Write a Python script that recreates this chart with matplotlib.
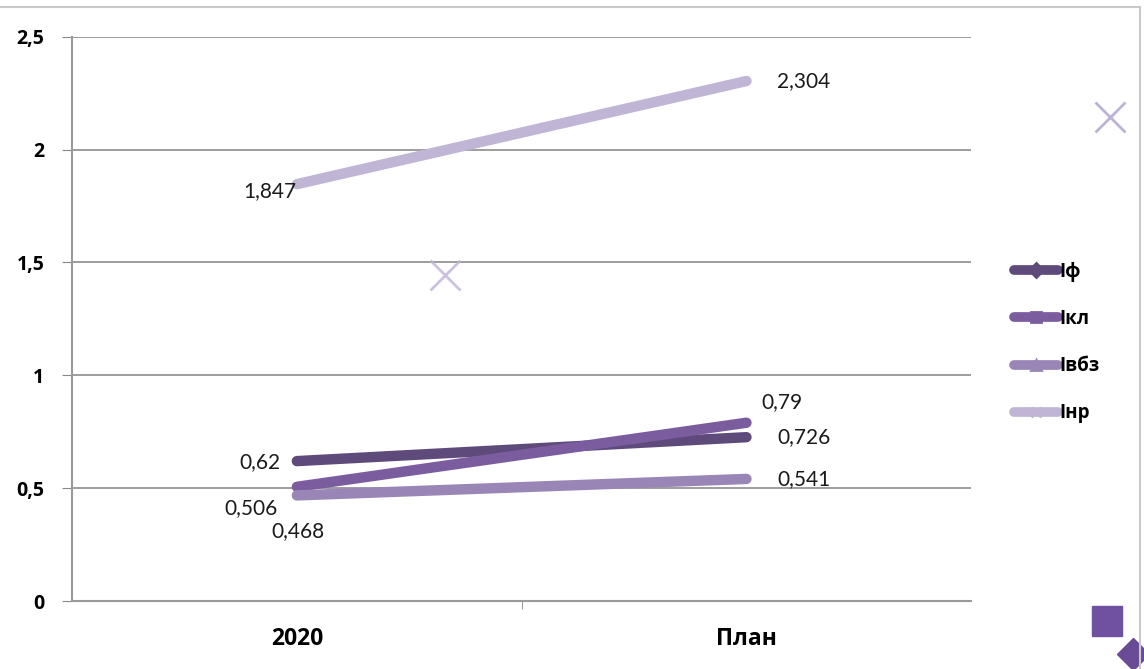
import matplotlib.pyplot as plt
from matplotlib.lines import Line2D

plt.rcParams['font.family'] = ['Lato', 'DejaVu Sans']

categories = ["2020", "План"]
series_names = ["Іф", "Ікл", "Івбз", "Інр"]
i_f = [0.62, 0.726]
i_kl = [0.506, 0.79]
i_vbz = [0.468, 0.541]
i_nr = [1.847, 2.304]
y_ticks = [0, 0.5, 1, 1.5, 2, 2.5]
y_tick_labels = ["0", "0,5", "1", "1,5", "2", "2,5"]

colors = ["#5f4a7c", "#7b5c9e", "#9a86b6", "#c0b5d4"]
markers = ["D", "s", "^", "x"]
# label offsets in points (dx, dy) and alignment for each point
label_pos = [
    [((-12, -1), "right"), ((22, 0), "left")],
    [((-14, -15), "right"), ((11, 15), "left")],
    [((20, -26), "right"), ((22, 0), "left")],
    [((0, -5), "right"), ((22, 0), "left")],
]

bold = {"family": ["Open Sans", "DejaVu Sans"], "weight": "bold"}

fig = plt.figure(figsize=(11.44, 6.69), dpi=100)
ax = fig.add_axes([0.063, 0.1016, 0.786, 0.8434])

x = range(len(categories))
data = [i_f, i_kl, i_vbz, i_nr]
for k, vals in enumerate(data):
    ax.plot(x, vals, color=colors[k], lw=7.5, solid_capstyle="round", zorder=3)
    for j, v in enumerate(vals):
        (dx, dy), ha = label_pos[k][j]
        ax.annotate(str(v).replace(".", ","), (j, v), xytext=(dx, dy),
                    textcoords="offset points", ha=ha, va="center",
                    fontsize=15, color="#1a1a1a")

ax.set_xlim(-0.5, 1.5)
ax.set_ylim(0, 2.5)
ax.set_yticks(y_ticks)
ax.set_yticklabels(y_tick_labels, fontdict=dict(bold, size=14))
ax.set_xticks(list(x))
ax.set_xticklabels(categories, fontdict=dict(bold, size=16.5))
ax.set_xticks([0.5], minor=True)
ax.tick_params(axis="x", which="major", length=0, pad=19)
ax.tick_params(axis="x", which="minor", length=6, color="#888888")
ax.tick_params(axis="y", length=7, color="#888888", pad=13)
ax.grid(axis="y", color="#8c8c8c", lw=1.2)
for s in ["top", "right"]:
    ax.spines[s].set_visible(False)
ax.spines["left"].set_color("#9a9a9a")
ax.spines["left"].set_linewidth(1.5)
ax.spines["bottom"].set_color("#9a9a9a")
ax.spines["bottom"].set_linewidth(1.5)

# stray markers from the original image
ax.plot([0.33], [1.445], marker="x", ms=22, mew=2, color="#bdb3d6", alpha=0.8, zorder=2)
fig.lines.append(Line2D([0.97], [0.825], marker="x", ms=22, mew=2, color="#bdb3d6",
                        transform=fig.transFigure))
fig.lines.append(Line2D([0.968], [0.072], marker="s", ms=22, color="#7050a0",
                        transform=fig.transFigure))
fig.lines.append(Line2D([0.99], [0.022], marker="D", ms=16, color="#6a4c96",
                        transform=fig.transFigure))

# frame lines
fig.lines.append(Line2D([0, 0.9965], [0.99, 0.99], color="#c8c8c8", lw=1.5,
                        transform=fig.transFigure))
fig.lines.append(Line2D([0.9965, 0.9965], [0, 0.99], color="#c8c8c8", lw=1.5,
                        transform=fig.transFigure))

handles = [Line2D([], [], color=colors[k], lw=7, marker=markers[k], ms=7,
                  mew=2, solid_capstyle="round")
           for k in range(4)]
leg = fig.legend(handles, series_names, loc="center left",
                 bbox_to_anchor=(0.872, 0.488), frameon=False,
                 prop={"family": ["Open Sans", "DejaVu Sans"], "weight": "bold", "size": 13.5},
                 handlelength=2.3, handletextpad=0.1, labelspacing=1.45)

fig.savefig("out.png", dpi=100)
